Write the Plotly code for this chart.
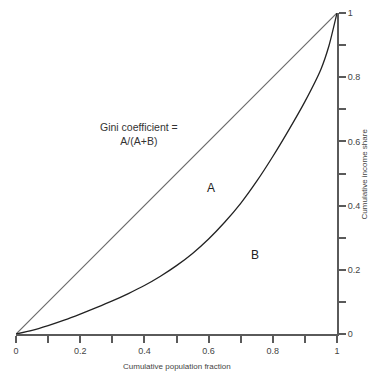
import plotly.graph_objects as go

# Data
pop_fraction = [0, 0.05, 0.1, 0.15, 0.2, 0.25, 0.3, 0.35, 0.4, 0.45, 0.5,
                0.55, 0.6, 0.65, 0.7, 0.75, 0.8, 0.85, 0.9, 0.95, 0.975, 1.0]
income_share = [0, 0.011, 0.026, 0.043, 0.062, 0.082, 0.103, 0.126, 0.151, 0.180, 0.213,
                0.251, 0.296, 0.348, 0.407, 0.476, 0.553, 0.636, 0.724, 0.825, 0.898, 1.0]
equality_x = [0, 1]
equality_y = [0, 1]
tick_vals = [0, 0.2, 0.4, 0.6, 0.8, 1]
tick_text = ["0", "0.2", "0.4", "0.6", "0.8", "1"]

FONT = "Arial, Liberation Sans, sans-serif"
AXC = "#5a5a5a"

fig = go.Figure()
fig.add_trace(go.Scatter(x=equality_x, y=equality_y, mode="lines",
                         line=dict(color="#6a6a6a", width=1.2), hoverinfo="skip"))
fig.add_trace(go.Scatter(x=pop_fraction, y=income_share, mode="lines",
                         line=dict(color="#222222", width=1.3, shape="spline", smoothing=0.6),
                         hoverinfo="skip"))

axis_common = dict(
    range=[0, 1], showgrid=False, zeroline=False, showline=True,
    linecolor=AXC, linewidth=2, ticks="outside", ticklen=7, tickwidth=2,
    tickcolor=AXC, tickvals=tick_vals, ticktext=tick_text,
    tickfont=dict(family=FONT, size=9, color="#444"),
    ticklabeloverflow="allow", automargin=False,
    minor=dict(dtick=0.1, tick0=0, ticks="outside", ticklen=7, tickwidth=2, tickcolor=AXC),
)

fig.update_layout(
    width=370, height=374, autosize=False,
    margin=dict(l=16, r=33, t=13, b=40),
    paper_bgcolor="white", plot_bgcolor="white",
    showlegend=False,
    font=dict(family=FONT),
    xaxis=dict(**axis_common, anchor="y", side="bottom"),
    yaxis=dict(**axis_common, anchor="x", side="right"),
    annotations=[
        dict(x=0.384, y=0.624, xref="x", yref="y", showarrow=False,
             text="Gini coefficient =<br>A/(A+B)",
             font=dict(family=FONT, size=10.5, color="#333")),
        dict(x=0.608, y=0.455, xref="x", yref="y", showarrow=False, text="A",
             font=dict(family=FONT, size=12, color="#222")),
        dict(x=0.746, y=0.247, xref="x", yref="y", showarrow=False, text="B",
             font=dict(family=FONT, size=12, color="#222")),
        dict(x=0.5, y=-0.0997, xref="paper", yref="paper", showarrow=False,
             xanchor="center", yanchor="middle",
             text="Cumulative population fraction",
             font=dict(family=FONT, size=8, color="#444")),
        dict(x=1.087, y=0.5, xref="paper", yref="paper", showarrow=False,
             xanchor="center", yanchor="middle",
             text="Cumulative income share", textangle=-90,
             font=dict(family=FONT, size=8, color="#444")),
    ],
)

fig.write_html(
    "out.html",
    config={"displayModeBar": False},
    post_script="document.body.style.margin='0';document.body.style.overflow='hidden';",
)
